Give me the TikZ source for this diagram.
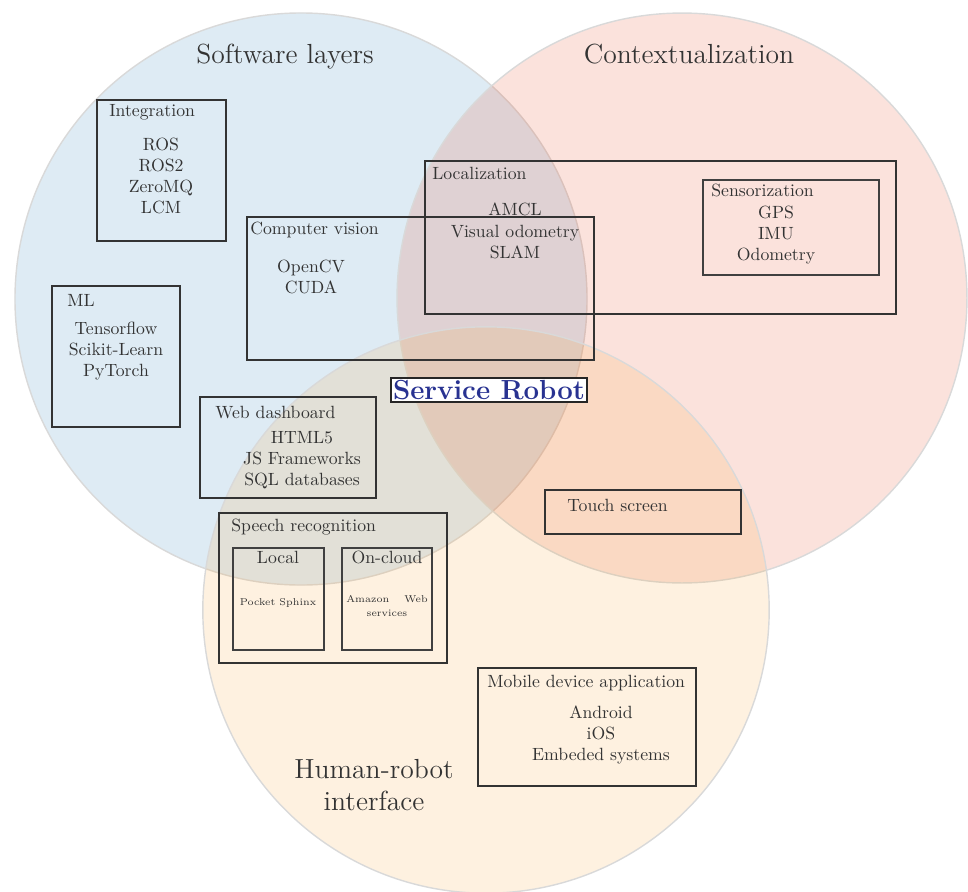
\documentclass[tikz,border=0pt]{standalone}
\usepackage{tikz}
\usetikzlibrary{positioning}
\definecolor{swblue}{RGB}{31,119,180}
\definecolor{ctxred}{RGB}{228,62,22}
\definecolor{hriorange}{RGB}{248,162,48}
\definecolor{robotblue}{RGB}{40,50,145}
\tikzset{
	setfill/.style={fill=#1, fill opacity=0.15, draw=black!15, line width=0.8pt},
	boxline/.style={draw=black!80, line width=0.8pt},
	thinbox/.style={draw=black!75, line width=0.6pt},
	grptitle/.style={anchor=west, inner sep=0pt, text=black!80},
	grpitems/.style={align=center, inner sep=0pt, text=black!80},
	tinyitems/.style={grpitems, font=\fontsize{5.6}{7.9}\selectfont},
	bigtitle/.style={align=center, inner sep=0pt, text=black!80, font=\large, scale=1.3},
}

\begin{document}
\begin{tikzpicture}[x={(0.565pt,0)}, y={(0,-0.565pt)}]
			%%%%% START %%%%%
			\useasboundingbox (0,0) rectangle (968,892);
			
			% the three sets
			\draw[setfill=swblue] (301,299) circle[radius=161.6pt];
			\draw[setfill=ctxred] (682,298) circle[radius=161pt];
			\draw[setfill=hriorange] (486,610) circle[radius=160pt];
			
			\node[bigtitle] (swtitle) at (285,57) {Software layers};
			\node[bigtitle] (ctxtitle) at (689,54) {Contextualization};
			\node[bigtitle] (hrititle) at (374,785) {Human-robot\\interface};
			
			% software layers
			\draw[boxline] (97,100) rectangle (226,241);
			\node[grptitle] (integ) at (109,112) {Integration};
			\node[grpitems] (integitems) at (161,176) {ROS\\ROS2\\ZeroMQ\\LCM};
			
			\draw[boxline] (52,286) rectangle (180,427);
			\node[grptitle] (ml) at (67,300) {ML};
			\node[grpitems] (mlitems) at (116,351) {Tensorflow\\Scikit-Learn\\PyTorch};
			
			\draw[boxline] (247,217) rectangle (594,360);
			\node[grptitle] (cv) at (250,230) {Computer vision};
			\node[grpitems] (cvitems) at (311,277) {OpenCV\\CUDA};
			
			% contextualization
			\draw[boxline] (425,161) rectangle (896,314);
			\node[grptitle] (loc) at (432,173) {Localization};
			\node[grpitems] (locitems) at (515,231) {AMCL\\Visual odometry\\SLAM};
			
			\draw[thinbox] (703,180) rectangle (879,275);
			\node[grptitle] (sens) at (711,190) {Sensorization};
			\node[grpitems] (sensitems) at (776,235) {GPS\\IMU\\Odometry};
			
			% human-robot interface
			\draw[boxline] (200,397) rectangle (376,498);
			\node[grptitle] (web) at (215,413) {Web dashboard};
			\node[grpitems] (webitems) at (302,460) {HTML5\\JS Frameworks\\SQL databases};
			
			\draw[boxline] (219,513) rectangle (447,663);
			\node[grptitle] (speech) at (231,527) {Speech recognition};
			\draw[thinbox] (233,548) rectangle (324,650);
			\draw[thinbox] (342,548) rectangle (432,650);
			\node[grpitems] (local) at (278,557) {Local};
			\node[grpitems] (oncloud) at (387,557) {On-cloud};
			\node[tinyitems] (sphinx) at (278,603) {Pocket Sphinx};
			\node[tinyitems, text width=46pt] (aws) at (387,606) {Amazon\hfill Web\\services};
			
			\draw[boxline] (545,490) rectangle (741,534);
			\node[grptitle] (touch) at (567,505) {Touch screen};
			
			\draw[boxline] (478,668) rectangle (696,786);
			\node[grptitle] (mobile) at (487,683) {Mobile device application};
			\node[grpitems] (mobileitems) at (601,735) {Android\\iOS\\Embeded systems};
			
			% centre
			\node[draw=black!85, line width=1.2pt, fill=white, inner sep=0.9pt, text=robotblue, font=\large\bfseries, scale=1.3] (robot) at (489,390) {Service Robot};
			
			%%%%% END %%%%%
\end{tikzpicture}
\end{document}
